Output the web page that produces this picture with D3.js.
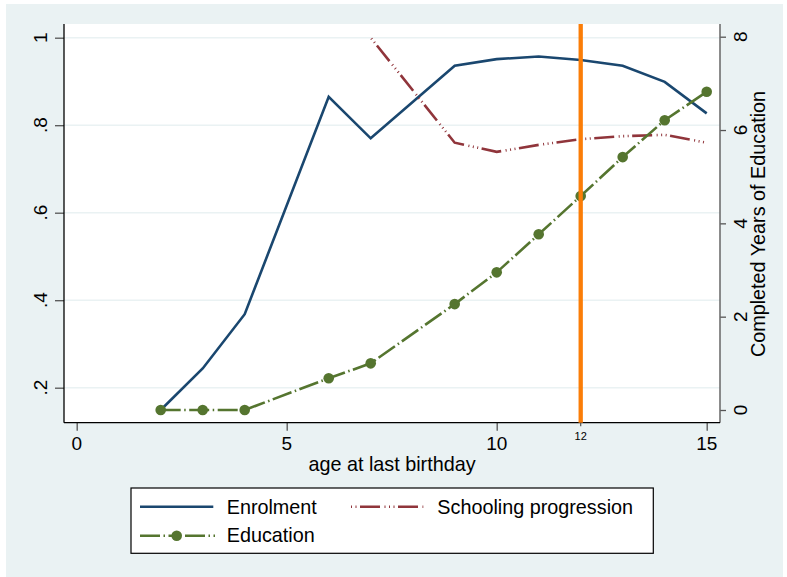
<!DOCTYPE html>
<html>
<head>
<meta charset="utf-8">
<script src="https://cdn.jsdelivr.net/npm/d3@7"></script>
<style>
  html, body { margin: 0; padding: 0; background: #ffffff; }
  svg { display: block; font-family: "Liberation Sans", Arial, sans-serif; }
</style>
</head>
<body>
<svg id="chart" width="787" height="577"></svg>
<script>
// Ages observed (5 and 8 have no observations)
const ages = [2, 3, 4, 6, 7, 9, 10, 11, 12, 13, 14, 15];
// Share enrolled (left axis)
const enrolment = [0.149, 0.244, 0.368, 0.865, 0.770, 0.936, 0.951, 0.957, 0.949, 0.936, 0.899, 0.827];
// Schooling progression (left axis), observed from age 7
const progressionAges = [7, 9, 10, 11, 12, 13, 14, 15];
const progression = [1.0, 0.760, 0.739, 0.755, 0.768, 0.775, 0.778, 0.760];
// Completed years of education (right axis)
const education = [0, 0, 0, 0.68, 1.0, 2.27, 2.95, 3.765, 4.585, 5.42, 6.21, 6.82];

// Axis ticks
const xTicks = [0, 5, 10, 15];
const markAge = 12;
const leftTicks = [0.2, 0.4, 0.6, 0.8, 1];
const leftTickLabels = [".2", ".4", ".6", ".8", "1"];
const rightTicks = [0, 2, 4, 6, 8];

const seriesNames = ["Enrolment", "Schooling progression", "Education"];
const xTitle = "age at last birthday";
const yRightTitle = "Completed Years of Education";

const colors = { enrol: "#1a476f", prog: "#90353b", edu: "#55752f", mark: "#fb7d07" };

const svg = d3.select("#chart");

// Plot region
const plot = { left: 64, right: 720, top: 24, bottom: 422.7 };

const x = d3.scaleLinear().domain([0, 15]).range([76.7, 706.7]);
const yL = d3.scaleLinear().domain([0.2, 1]).range([387.7, 37.7]);
const yR = d3.scaleLinear().domain([0, 8]).range([410, 36.7]);

// Outer background
svg.append("rect").attr("x", 6).attr("y", 4).attr("width", 777).attr("height", 573).attr("fill", "#eaf2f3");
// Plot area
svg.append("rect").attr("x", plot.left).attr("y", plot.top)
  .attr("width", plot.right - plot.left).attr("height", plot.bottom - plot.top).attr("fill", "#ffffff");

// Horizontal gridlines from the left axis
svg.append("g").selectAll("line").data(leftTicks).join("line")
  .attr("x1", plot.left).attr("x2", plot.right)
  .attr("y1", d => yL(d)).attr("y2", d => yL(d))
  .attr("stroke", "#eaf2f3").attr("stroke-width", 1.5);

// Left axis
const gL = svg.append("g").attr("transform", `translate(${plot.left},0)`)
  .call(d3.axisLeft(yL).tickValues(leftTicks).tickSize(9).tickFormat(""));
gL.select(".domain").remove();
gL.selectAll(".tick line").attr("stroke", "#555").attr("stroke-width", 1.3);
svg.append("line").attr("x1", plot.left).attr("x2", plot.left)
  .attr("y1", plot.top).attr("y2", plot.bottom).attr("stroke", "#000").attr("stroke-width", 1.3);
svg.append("g").selectAll("text").data(leftTicks).join("text")
  .attr("transform", d => `translate(46.5,${yL(d)}) rotate(-90)`)
  .attr("text-anchor", "middle").attr("font-size", 19).attr("fill", "#000")
  .text((d, i) => leftTickLabels[i]);

// Right axis
const gR = svg.append("g").attr("transform", `translate(${plot.right},0)`)
  .call(d3.axisRight(yR).tickValues(rightTicks).tickSize(6).tickFormat(""));
gR.select(".domain").remove();
gR.selectAll(".tick line").attr("stroke", "#555").attr("stroke-width", 1.3);
svg.append("line").attr("x1", plot.right).attr("x2", plot.right)
  .attr("y1", plot.top).attr("y2", plot.bottom).attr("stroke", "#666").attr("stroke-width", 1.5);
svg.append("g").selectAll("text").data(rightTicks).join("text")
  .attr("transform", d => `translate(746.5,${yR(d)}) rotate(-90)`)
  .attr("text-anchor", "middle").attr("font-size", 19).attr("fill", "#000")
  .text(d => d);
svg.append("text")
  .attr("transform", `translate(765,224) rotate(-90)`)
  .attr("text-anchor", "middle").attr("font-size", 19.8).attr("fill", "#000")
  .text(yRightTitle);

// Bottom axis
const gB = svg.append("g").attr("transform", `translate(0,${plot.bottom})`)
  .call(d3.axisBottom(x).tickValues(xTicks).tickSize(8).tickFormat(""));
gB.select(".domain").remove();
gB.selectAll(".tick line").attr("stroke", "#555").attr("stroke-width", 1.3);
svg.append("line").attr("x1", plot.left).attr("x2", plot.right)
  .attr("y1", plot.bottom).attr("y2", plot.bottom).attr("stroke", "#000").attr("stroke-width", 1.3);
svg.append("g").selectAll("text").data(xTicks).join("text")
  .attr("x", d => x(d)).attr("y", 450).attr("text-anchor", "middle")
  .attr("font-size", 19).attr("fill", "#000").text(d => d);
// Marked age tick
svg.append("line").attr("x1", x(markAge)).attr("x2", x(markAge))
  .attr("y1", plot.bottom).attr("y2", plot.bottom + 3.5).attr("stroke", "#555").attr("stroke-width", 1.2);
svg.append("text").attr("x", x(markAge)).attr("y", 440).attr("text-anchor", "middle")
  .attr("font-size", 11).attr("fill", "#000").text(markAge);
svg.append("text").attr("x", (plot.left + plot.right) / 2).attr("y", 470.5)
  .attr("text-anchor", "middle").attr("font-size", 19.8).attr("fill", "#000").text(xTitle);

// Dash patterns
const progDash = "20,4.5,1,3.5,1,3.5,1,3.5";
const eduDash = "20,3.5,1.5,3.5";

const lineL = d3.line().x(d => x(d[0])).y(d => yL(d[1]));
const lineR = d3.line().x(d => x(d[0])).y(d => yR(d[1]));

// Enrolment
svg.append("path").datum(ages.map((a, i) => [a, enrolment[i]]))
  .attr("d", lineL).attr("fill", "none").attr("stroke", colors.enrol).attr("stroke-width", 2.6);

// Schooling progression
svg.append("path").datum(progressionAges.map((a, i) => [a, progression[i]]))
  .attr("d", lineL).attr("fill", "none").attr("stroke", colors.prog).attr("stroke-width", 2.6)
  .attr("stroke-dasharray", progDash).attr("stroke-dashoffset", 28);

// Education
const eduPts = ages.map((a, i) => [a, education[i]]);
svg.append("path").datum(eduPts)
  .attr("d", lineR).attr("fill", "none").attr("stroke", colors.edu).attr("stroke-width", 2.6)
  .attr("stroke-dasharray", eduDash);
svg.append("g").selectAll("circle").data(eduPts).join("circle")
  .attr("cx", d => x(d[0])).attr("cy", d => yR(d[1])).attr("r", 5.3).attr("fill", colors.edu);

// Vertical marker at age 12
svg.append("line").attr("x1", x(markAge)).attr("x2", x(markAge))
  .attr("y1", plot.top).attr("y2", plot.bottom)
  .attr("stroke", colors.mark).attr("stroke-width", 4.3);

// Legend
const lg = svg.append("g");
lg.append("rect").attr("x", 131).attr("y", 488).attr("width", 522.3).attr("height", 65.3)
  .attr("fill", "#ffffff").attr("stroke", "#000").attr("stroke-width", 1.2);
lg.append("line").attr("x1", 140).attr("x2", 213.3).attr("y1", 506.7).attr("y2", 506.7)
  .attr("stroke", colors.enrol).attr("stroke-width", 2.6);
lg.append("text").attr("x", 226.7).attr("y", 514.3).attr("font-size", 19.8).text(seriesNames[0]);
lg.append("line").attr("x1", 350).attr("x2", 423.3).attr("y1", 506.7).attr("y2", 506.7)
  .attr("stroke", colors.prog).attr("stroke-width", 2.6)
  .attr("stroke-dasharray", progDash).attr("stroke-dashoffset", 28);
lg.append("text").attr("x", 437.3).attr("y", 514.3).attr("font-size", 19.8).text(seriesNames[1]);
lg.append("line").attr("x1", 140).attr("x2", 176.7).attr("y1", 535.7).attr("y2", 535.7)
  .attr("stroke", colors.edu).attr("stroke-width", 2.6).attr("stroke-dasharray", eduDash);
lg.append("line").attr("x1", 185).attr("x2", 215).attr("y1", 535.7).attr("y2", 535.7)
  .attr("stroke", colors.edu).attr("stroke-width", 2.6).attr("stroke-dasharray", eduDash);
lg.append("circle").attr("cx", 176.7).attr("cy", 535.7).attr("r", 5.3).attr("fill", colors.edu);
lg.append("text").attr("x", 226.7).attr("y", 542.3).attr("font-size", 19.8).text(seriesNames[2]);
</script>
</body>
</html>
